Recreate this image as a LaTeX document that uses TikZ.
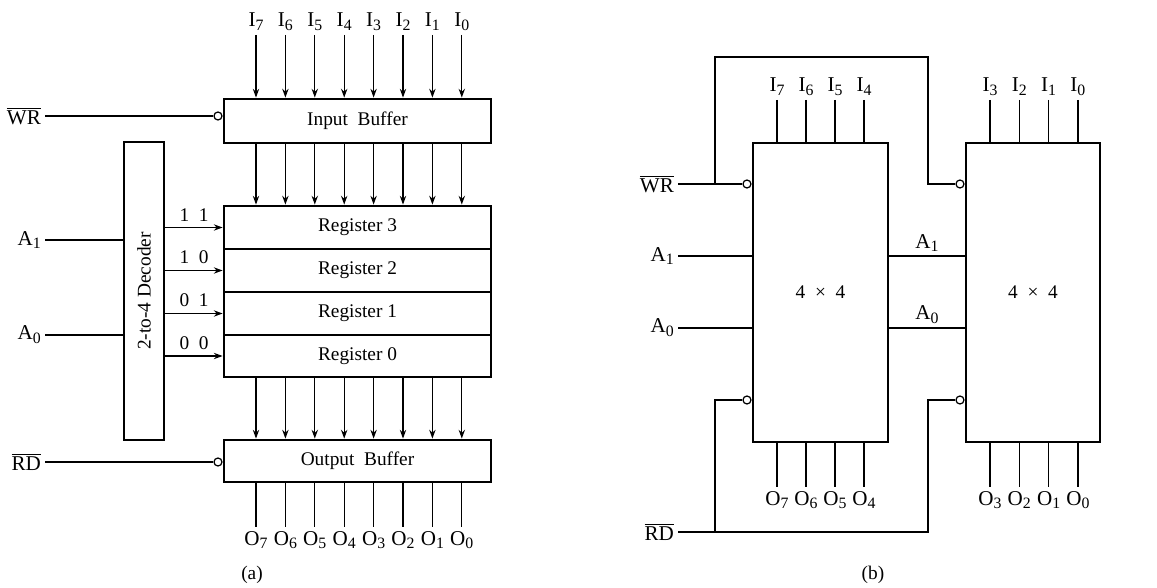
\documentclass[tikz,border=0pt]{standalone}
\usepackage{fontspec}
\setmainfont{Liberation Serif}
\usetikzlibrary{fit,arrows.meta}

\newcommand{\lowidx}[1]{\raisebox{-0.4ex}{\fontsize{9}{10}\selectfont #1}}

\tikzset{
  box/.style={draw, line width=1.6pt, inner sep=0pt, fit={#1}},
  row/.style={draw, line width=0.7pt, inner sep=0pt, fit={#1}},
  bubble/.style={draw, circle, fill=white, line width=0.7pt, inner sep=0pt, minimum size=0.16cm},
  lbl/.style={inner sep=2pt, font=\fontsize{12}{14}\selectfont}
}

\begin{document}
\begin{tikzpicture}[x=0.02cm, y=-0.02cm, line width=0.7pt,
  >={Stealth[length=5pt,width=3.6pt]}, font=\fontsize{11}{13}\selectfont]
  \useasboundingbox (0,0) rectangle (1157,588);

  % (a) memory with four registers
  \node[box={(224,99) (491,143)}] (inbuf) {};
  \node[box={(224,206) (491,377)}] (regs) {};
  \node[row={(224,206) (491,249)}] (reg3) {};
  \node[row={(224,249) (491,292)}] (reg2) {};
  \node[row={(224,292) (491,335)}] (reg1) {};
  \node[row={(224,335) (491,377)}] (reg0) {};
  \node[box={(224,440) (491,482)}] (outbuf) {};
  \node[box={(124,142) (164,440)}] (dec) {};
  \node (inlbl) at (inbuf) {Input\enspace Buffer};
  \node (outlbl) at (outbuf) {Output\enspace Buffer};
  \foreach \r in {0,...,3}
    \node (reglbl\r) at (reg\r) {Register \r};
  \node[rotate=90] (declbl) at (dec) {2-to-4 Decoder};

  \foreach \k in {0,...,7} {
    \pgfmathtruncatemacro\n{7-\k}
    \node[lbl, anchor=south] (ia\n) at ({256+29.4*\k},35) {I\lowidx{\n}};
    \node[lbl, anchor=north] (oa\n) at ({256+29.4*\k},527) {O\lowidx{\n}};
    \draw[->] (ia\n) -- (ia\n |- inbuf.north);
    \draw[->] (inbuf.south -| ia\n) -- (regs.north -| ia\n);
    \draw[->] (regs.south -| ia\n) -- (outbuf.north -| ia\n);
    \draw (outbuf.south -| oa\n) -- (oa\n);
  }

  \node[lbl, anchor=east] (wra) at (45,116) {$\overline{\mbox{WR}}$};
  \node[bubble, anchor=east] (wba) at (inbuf.west |- wra) {};
  \draw (wra) -- (wba);
  \node[lbl, anchor=east] (rda) at (45,462) {$\overline{\mbox{RD}}$};
  \node[bubble, anchor=east] (rba) at (outbuf.west |- rda) {};
  \draw (rda) -- (rba);

  \node[lbl, anchor=east] (a1a) at (45,240) {A\lowidx{1}};
  \node[lbl, anchor=east] (a0a) at (45,335) {A\lowidx{0}};
  \draw (a1a) -- (dec.west |- a1a);
  \draw (a0a) -- (dec.west |- a0a);

  \draw[->] (dec.east |- reg3) -- node[above] {1\enspace1} (regs.west |- reg3);
  \draw[->] (dec.east |- reg2) -- node[above] {1\enspace0} (regs.west |- reg2);
  \draw[->] (dec.east |- reg1) -- node[above] {0\enspace1} (regs.west |- reg1);
  \draw[->] (dec.east |- reg0) -- node[above] {0\enspace0} (regs.west |- reg0);

  \node (capa) at (252,575) {(a)};

  % (b) two 4 x 4 memories side by side
  \node[box={(753,143) (888,442)}] (mA) {};
  \node[box={(966,143) (1100,442)}] (mB) {};
  \node (mAlbl) at (mA) {4\enspace ×\enspace 4};
  \node (mBlbl) at (mB) {4\enspace ×\enspace 4};

  \foreach \k in {0,...,3} {
    \pgfmathtruncatemacro\n{7-\k}
    \pgfmathtruncatemacro\m{3-\k}
    \node[lbl, anchor=south] (ib\n) at ({777+29*\k},100) {I\lowidx{\n}};
    \node[lbl, anchor=north] (ob\n) at ({777+29*\k},487) {O\lowidx{\n}};
    \node[lbl, anchor=south] (ib\m) at ({990+29.3*\k},100) {I\lowidx{\m}};
    \node[lbl, anchor=north] (ob\m) at ({990+29.3*\k},487) {O\lowidx{\m}};
    \draw (ib\n) -- (ib\n |- mA.north);
    \draw (mA.south -| ob\n) -- (ob\n);
    \draw (ib\m) -- (ib\m |- mB.north);
    \draw (mB.south -| ob\m) -- (ob\m);
  }

  \node[lbl, anchor=east] (wrb) at (678,184) {$\overline{\mbox{WR}}$};
  \node[bubble, anchor=east] (wbA) at (mA.west |- wrb) {};
  \node[bubble, anchor=east] (wbB) at (mB.west |- wrb) {};
  \coordinate (wtap) at (715,184);
  \coordinate (wtop) at (715,57);
  \coordinate (wbend) at (928,57);
  \draw (wrb) -- (wbA);
  \draw (wtap) -- (wtop) -- (wbend) |- (wbB);

  \node[lbl, anchor=east] (a1b) at (678,256) {A\lowidx{1}};
  \node[lbl, anchor=east] (a0b) at (678,328) {A\lowidx{0}};
  \draw (a1b) -- (mA.west |- a1b);
  \draw (a0b) -- (mA.west |- a0b);
  \draw (mA.east |- a1b) -- node[lbl, above] (a1m) {A\lowidx{1}} (mB.west |- a1b);
  \draw (mA.east |- a0b) -- node[lbl, above] (a0m) {A\lowidx{0}} (mB.west |- a0b);

  \node[lbl, anchor=east] (rdb) at (678,532) {$\overline{\mbox{RD}}$};
  \coordinate (rlev) at (0,400);
  \node[bubble, anchor=east] (rbA) at (mA.west |- rlev) {};
  \node[bubble, anchor=east] (rbB) at (mB.west |- rlev) {};
  \coordinate (rtap) at (715,532);
  \coordinate (rbend) at (928,532);
  \draw (rdb) -- (rbend) |- (rbB);
  \draw (rtap) |- (rbA);

  \node (capb) at (873,575) {(b)};
\end{tikzpicture}
\end{document}
